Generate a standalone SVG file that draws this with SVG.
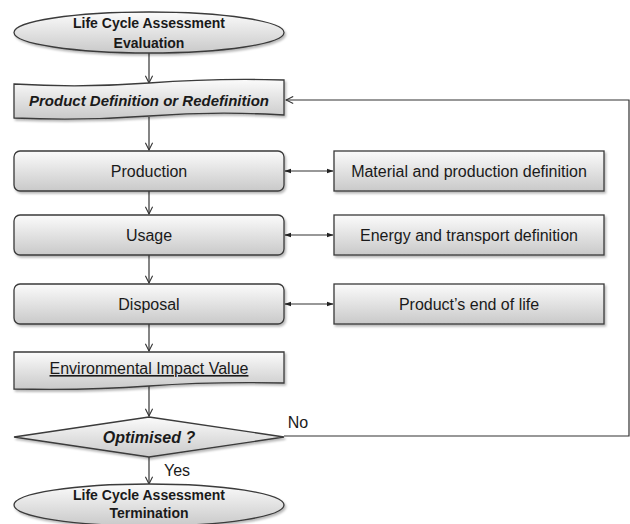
<svg xmlns="http://www.w3.org/2000/svg" width="630" height="524" viewBox="0 0 630 524">
<defs>
<linearGradient id="g" x1="0" y1="0" x2="0" y2="1">
<stop offset="0" stop-color="#fbfbfb"/>
<stop offset="1" stop-color="#c9c9c9"/>
</linearGradient>
<filter id="sh" x="-10%" y="-10%" width="125%" height="140%">
<feDropShadow dx="1.5" dy="2" stdDeviation="1.2" flood-color="#000" flood-opacity="0.28"/>
</filter>
<marker id="open" viewBox="0 0 10 10" refX="9" refY="5" markerWidth="9" markerHeight="9" orient="auto" markerUnits="userSpaceOnUse">
<path d="M1,1 L9,5 L1,9" fill="none" stroke="#333" stroke-width="1.2"/>
</marker>
<marker id="fill" viewBox="0 0 10 10" refX="9" refY="5" markerWidth="7" markerHeight="7" orient="auto-start-reverse" markerUnits="userSpaceOnUse">
<path d="M0,1.5 L10,5 L0,8.5 Z" fill="#222"/>
</marker>
</defs>
<style>
.n{fill:url(#g);stroke:#3a3a3a;stroke-width:1.3;filter:url(#sh)}
.t{font-family:"Liberation Sans",Arial,sans-serif;font-size:16px;fill:#1a1a1a;text-anchor:middle}
.b{font-weight:bold}
.i{font-style:italic}
.s{font-size:14px}
.c{fill:none;stroke:#333;stroke-width:1.2}
</style>
<g id="connectors">
<path class="c" d="M149,53 V83" marker-end="url(#open)"/>
<path class="c" d="M149,117 V150" marker-end="url(#open)"/>
<path class="c" d="M149,191 V214" marker-end="url(#open)"/>
<path class="c" d="M149,255 V283" marker-end="url(#open)"/>
<path class="c" d="M149,324 V351" marker-end="url(#open)"/>
<path class="c" d="M149,386 V416" marker-end="url(#open)"/>
<path class="c" d="M149,457 V484" marker-end="url(#open)"/>
<path class="c" d="M284,436 H629 V100 H286" marker-end="url(#open)"/>
<path class="c" d="M285,171 H333" marker-start="url(#fill)" marker-end="url(#fill)"/>
<path class="c" d="M285,235 H333" marker-start="url(#fill)" marker-end="url(#fill)"/>
<path class="c" d="M285,304 H333" marker-start="url(#fill)" marker-end="url(#fill)"/>
<text class="t" x="298" y="428">No</text>
<text class="t" x="177" y="476">Yes</text>
</g>
<g id="start">
<ellipse class="n" cx="149" cy="32.5" rx="135" ry="20.5"/>
<text class="t b s" x="149" y="28">Life Cycle Assessment</text>
<text class="t b s" x="149" y="48">Evaluation</text>
</g>
<g id="product-definition">
<path class="n" d="M14,84 Q82,88 149,83 T284,80 V115 Q216,111 149,116 T14,118 Z"/>
<text class="t b i" x="149" y="106" style="font-size:15px">Product Definition or Redefinition</text>
</g>
<g id="production">
<rect class="n" x="14" y="151" width="270" height="40" rx="6"/>
<text class="t" x="149" y="177">Production</text>
</g>
<g id="usage">
<rect class="n" x="14" y="215" width="270" height="40" rx="6"/>
<text class="t" x="149" y="241">Usage</text>
</g>
<g id="disposal">
<rect class="n" x="14" y="284" width="270" height="40" rx="6"/>
<text class="t" x="149" y="310">Disposal</text>
</g>
<g id="material">
<rect class="n" x="334" y="151" width="270" height="40"/>
<text class="t" x="469" y="177">Material and production definition</text>
</g>
<g id="energy">
<rect class="n" x="334" y="215" width="270" height="40"/>
<text class="t" x="469" y="241">Energy and transport definition</text>
</g>
<g id="end-of-life">
<rect class="n" x="334" y="284" width="270" height="40"/>
<text class="t" x="469" y="310">Product’s end of life</text>
</g>
<g id="impact">
<path class="n" d="M14,352 H284 V383 C230,382 190,383 149,386 S60,390 14,389 Z"/>
<text class="t" x="149" y="374" text-decoration="underline">Environmental Impact Value</text>
</g>
<g id="optimised">
<path class="n" d="M149,417 L284,437 L149,457 L14,437 Z"/>
<text class="t b i" x="149" y="443">Optimised ?</text>
</g>
<g id="end">
<ellipse class="n" cx="149" cy="505" rx="135" ry="21"/>
<text class="t b s" x="149" y="500">Life Cycle Assessment</text>
<text class="t b s" x="149" y="518">Termination</text>
</g>
</svg>
